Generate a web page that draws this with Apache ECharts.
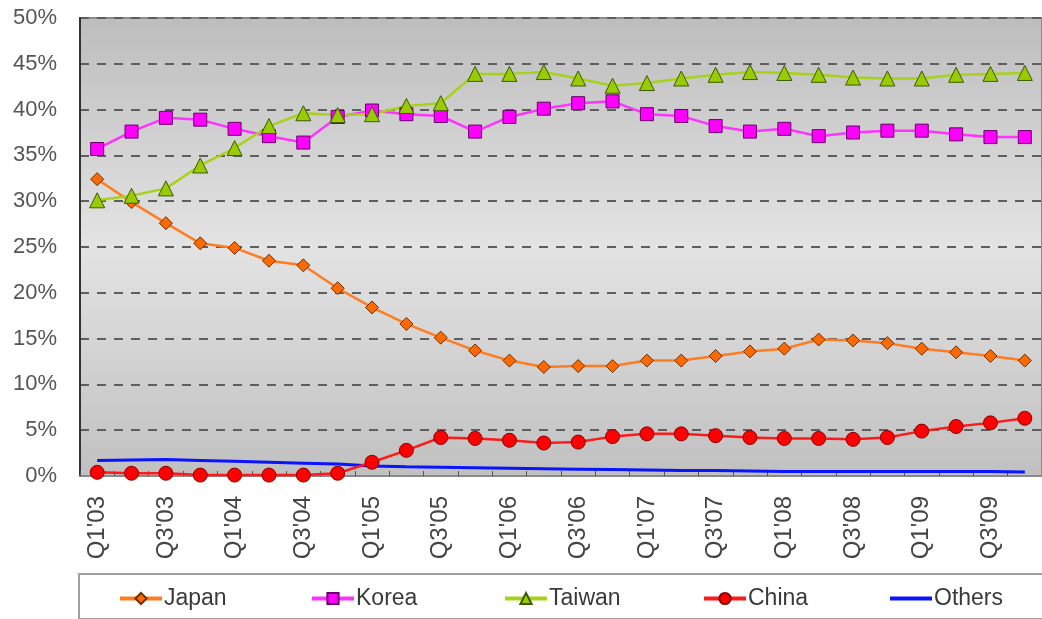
<!DOCTYPE html>
<html>
<head>
<meta charset="utf-8">
<title>Regional share by quarter</title>
<script src="https://cdn.jsdelivr.net/npm/echarts@6/dist/echarts.min.js"></script>
<style>
  html, body { margin: 0; padding: 0; background: #ffffff; }
  #chart { width: 1042px; height: 619px; }
</style>
</head>
<body>
<div id="chart"></div>
<script>
// Quarters Q1'03 .. Q4'09
const categories = [
  "Q1'03", "Q2'03", "Q3'03", "Q4'03",
  "Q1'04", "Q2'04", "Q3'04", "Q4'04",
  "Q1'05", "Q2'05", "Q3'05", "Q4'05",
  "Q1'06", "Q2'06", "Q3'06", "Q4'06",
  "Q1'07", "Q2'07", "Q3'07", "Q4'07",
  "Q1'08", "Q2'08", "Q3'08", "Q4'08",
  "Q1'09", "Q2'09", "Q3'09", "Q4'09"
];

// Share of total, in percent
const japan = [32.4, 29.9, 27.6, 25.4, 24.9, 23.5, 23.0, 20.5, 18.4, 16.6, 15.1, 13.7,
               12.6, 11.9, 12.0, 12.0, 12.6, 12.6, 13.1, 13.6, 13.9, 14.9, 14.8, 14.5,
               13.9, 13.5, 13.1, 12.6];
const korea = [35.7, 37.6, 39.1, 38.9, 37.9, 37.1, 36.4, 39.2, 39.9, 39.5, 39.3, 37.6,
               39.2, 40.1, 40.7, 40.9, 39.5, 39.3, 38.2, 37.6, 37.9, 37.1, 37.5, 37.7,
               37.7, 37.3, 37.0, 37.0];
const taiwan = [30.1, 30.6, 31.4, 33.9, 35.8, 38.2, 39.6, 39.4, 39.5, 40.4, 40.7, 43.9,
                43.9, 44.1, 43.4, 42.6, 42.9, 43.4, 43.8, 44.1, 44.0, 43.8, 43.5, 43.4,
                43.4, 43.8, 43.9, 44.0];
const china = [0.4, 0.3, 0.3, 0.1, 0.1, 0.1, 0.1, 0.3, 1.5, 2.8, 4.2, 4.1,
               3.9, 3.6, 3.7, 4.3, 4.6, 4.6, 4.4, 4.2, 4.1, 4.1, 4.0, 4.2,
               4.9, 5.4, 5.8, 6.3];
const others = [1.7, 1.75, 1.8, 1.7, 1.6, 1.5, 1.4, 1.3, 1.1, 1.0, 0.95, 0.9,
                0.85, 0.8, 0.75, 0.7, 0.65, 0.6, 0.6, 0.55, 0.5, 0.5, 0.5, 0.5,
                0.5, 0.5, 0.5, 0.45];

const seriesNames = ['Japan', 'Korea', 'Taiwan', 'China', 'Others'];
// Left edge of each legend entry inside the legend box
const legendLefts = [118, 310, 503, 702, 888];

const chart = echarts.init(document.getElementById('chart'), null, { renderer: 'canvas' });

const FONT = 'Liberation Sans, Arial, sans-serif';

function markerSeries(name, data, symbol, size, fill, border, lineColor) {
  return {
    name: name,
    type: 'line',
    data: data,
    symbol: symbol,
    symbolSize: size,
    showSymbol: true,
    itemStyle: { color: fill, borderColor: border, borderWidth: 1 },
    lineStyle: { color: lineColor, width: 2.5 },
    emphasis: { disabled: true }
  };
}

// One legend per entry so each sits in its own slot of the box
const legends = seriesNames.map(function (name, i) {
  const entry = name === 'Others'
    ? { name: name, itemStyle: { opacity: 0 } }
    : { name: name };
  return {
    data: [entry],
    left: legendLefts[i],
    top: 587,
    itemWidth: 42,
    itemHeight: 14,
    itemGap: 0,
    padding: 0,
    selectedMode: false,
    lineStyle: { width: 4 },
    textStyle: { fontFamily: FONT, fontSize: 23, color: '#3a3a3a', padding: [0, 0, 0, -3] }
  };
});

const option = {
  animation: false,
  backgroundColor: '#ffffff',
  graphic: [{
    type: 'rect',
    left: 78, top: 573,
    shape: { width: 990, height: 45 },
    style: { fill: '#ffffff', stroke: '#a0a0a0', lineWidth: 2 },
    z: -1
  }],
  grid: {
    left: 80, top: 18, width: 966, height: 458,
    show: true,
    borderWidth: 2,
    borderColor: '#8c8c8c',
    backgroundColor: new echarts.graphic.LinearGradient(0, 0, 0, 1, [
      { offset: 0, color: '#bdbdbd' },
      { offset: 0.5, color: '#e3e3e3' },
      { offset: 1, color: '#c0c0c0' }
    ])
  },
  legend: legends,
  xAxis: {
    type: 'category',
    data: categories,
    boundaryGap: true,
    axisLine: { show: true, lineStyle: { color: '#8a8a8a', width: 2 } },
    axisTick: { show: true, inside: true, length: 5, interval: 0, lineStyle: { color: '#555555', width: 1 } },
    axisLabel: {
      interval: 1,
      rotate: 90,
      margin: 20,
      fontFamily: FONT,
      fontSize: 24,
      color: '#444444'
    },
    splitLine: { show: false }
  },
  yAxis: {
    type: 'value',
    min: 0, max: 50, interval: 5,
    axisLine: { show: true, lineStyle: { color: '#333333', width: 2 } },
    axisTick: { show: false },
    axisLabel: {
      formatter: '{value}%',
      margin: 23,
      fontFamily: FONT,
      fontSize: 22,
      color: '#555555'
    },
    splitLine: { show: true, lineStyle: { color: '#5e5e5e', width: 2, type: [9, 8] } }
  },
  series: [
    markerSeries('Japan', japan, 'diamond', 13, '#ff6a00', '#6b3000', '#ff7d22'),
    markerSeries('Korea', korea, 'rect', 13, '#ff00ff', '#660066', '#ff33ff'),
    markerSeries('Taiwan', taiwan, 'triangle', 15, '#99cc00', '#3a5a00', '#a6d21a'),
    markerSeries('China', china, 'circle', 14, '#ff0000', '#8a0000', '#ff1a1a'),
    {
      name: 'Others',
      type: 'line',
      data: others,
      symbol: 'none',
      itemStyle: { color: '#0000ff' },
      lineStyle: { color: '#0a14ff', width: 3 },
      z: 1,
      emphasis: { disabled: true }
    }
  ]
};

chart.setOption(option);
</script>
</body>
</html>
